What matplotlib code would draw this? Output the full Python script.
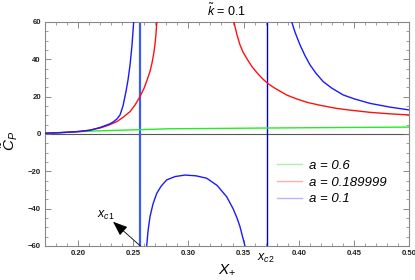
import matplotlib
matplotlib.use("Agg")
import matplotlib.pyplot as plt
from matplotlib.ticker import MultipleLocator, FixedLocator

plt.rcParams['font.family'] = ['Liberation Sans', 'DejaVu Sans']
plt.rcParams['mathtext.fontset'] = 'custom'
plt.rcParams['mathtext.rm'] = 'Liberation Sans'
plt.rcParams['mathtext.it'] = 'Liberation Sans:italic'
plt.rcParams['mathtext.bf'] = 'Liberation Sans:bold'

# ---- data ----
green_x = [0.17, 0.19, 0.21, 0.23, 0.2561, 0.2815, 0.3287, 0.37, 0.42, 0.46, 0.50]
green_y = [0.4, 1.0, 1.5, 1.9, 2.3, 2.8, 3.0, 3.2, 3.4, 3.55, 3.7]

red_left_x = [0.17, 0.1836, 0.1927, 0.2017, 0.2108, 0.2199, 0.2271, 0.2350, 0.2407, 0.2471,
              0.2516, 0.2561, 0.2598, 0.2625, 0.2652, 0.2670, 0.2684, 0.2697, 0.2706, 0.2714]
red_left_y = [0.4, 0.7, 1.0, 1.3, 2.1, 3.2, 4.6, 6.6, 8.9, 12.0,
              15.5, 20.0, 24.5, 28.8, 33.5, 38.0, 42.5, 48.0, 53.5, 60.0]
red_right_x = [0.3413, 0.3440, 0.3468, 0.3496, 0.3529, 0.3577, 0.3631, 0.3667, 0.3719, 0.3785,
               0.3891, 0.3976, 0.4073, 0.4193, 0.4345, 0.4465, 0.4647, 0.4828, 0.50]
red_right_y = [60.0, 53.2, 47.7, 43.8, 40.5, 36.0, 32.2, 29.9, 27.1, 24.5,
               20.9, 18.9, 17.0, 15.4, 13.7, 12.8, 11.6, 10.8, 10.2]

blue_left_x = [0.17, 0.1836, 0.1972, 0.2108, 0.2199, 0.2259, 0.2289, 0.2317, 0.2353, 0.2380,
               0.2407, 0.2434, 0.2453, 0.2471, 0.2489, 0.2504]
blue_left_y = [0.4, 0.7, 1.2, 2.0, 3.5, 4.8, 5.5, 6.4, 8.1, 10.2,
               15.0, 22.7, 29.1, 37.0, 47.7, 60.0]
blue_mid_x = [0.2622, 0.2634, 0.2652, 0.2679, 0.2713, 0.2752, 0.2803, 0.2879, 0.2969, 0.3069,
              0.3166, 0.3259, 0.3347, 0.3405, 0.3441, 0.3468, 0.3513]
blue_mid_y = [-60.0, -52.0, -44.3, -37.5, -31.8, -28.0, -24.6, -22.8, -22.0, -22.4,
              -23.7, -27.5, -33.6, -40.0, -45.0, -49.7, -60.0]
blue_right_x = [0.3937, 0.3967, 0.4012, 0.4057, 0.4103, 0.4157, 0.4223, 0.4302, 0.4404, 0.4510,
                0.4647, 0.4828, 0.50]
blue_right_y = [60.0, 54.5, 47.7, 42.0, 37.0, 32.5, 28.0, 24.5, 20.9, 18.7,
                16.4, 14.4, 12.9]

x_c1 = 0.2565
x_c2 = 0.371

legend_labels = ['a = 0.6', 'a = 0.189999', 'a = 0.1']
x_ticks = [0.20, 0.25, 0.30, 0.35, 0.40, 0.45, 0.50]
y_ticks = [-60, -40, -20, 0, 20, 40, 60]

# ---- figure ----
fig = plt.figure(figsize=(4.15, 2.8), dpi=100)
ax = fig.add_axes([45/415, 1-246/280, 364/415, 224/280])

lw = 1.0
kw = dict(lw=lw, zorder=3, solid_joinstyle='round', solid_capstyle='butt')
ax.axhline(0, color='#555555', lw=0.8, zorder=1)
ax.plot(green_x, green_y, color='#22ee22', **kw)
ax.plot(red_left_x, red_left_y, color='#ff1010', **kw)
ax.plot(red_right_x, red_right_y, color='#ff1010', **kw)
ax.plot(blue_left_x, blue_left_y, color='#1a1aff', **kw)
ax.plot(blue_mid_x, blue_mid_y, color='#1a1aff', **kw)
ax.plot(blue_right_x, blue_right_y, color='#1a1aff', **kw)
ax.axvline(x_c1, color='#3a5cff', lw=1.6, zorder=2)
ax.axvline(x_c2, color='#0000dd', lw=1.0, zorder=2)

ax.set_xlim(0.17, 0.50)
ax.set_ylim(-60, 60)

ax.xaxis.set_major_locator(FixedLocator(x_ticks))
ax.xaxis.set_minor_locator(MultipleLocator(0.01))
ax.yaxis.set_major_locator(FixedLocator(y_ticks))
ax.yaxis.set_minor_locator(MultipleLocator(5))
ax.set_xticklabels(['%.2f' % t for t in x_ticks], fontsize=5.6, fontweight='bold', color='#222222')
ax.set_yticklabels([str(t).replace('-', '\u2212') for t in y_ticks], fontsize=5.6, fontweight='bold', color='#222222')
ax.tick_params(which='both', direction='in', top=True, right=True, color='#777777', pad=3)
ax.tick_params(which='major', length=4, width=0.6)
ax.tick_params(which='minor', length=2, width=0.5)
for s in ax.spines.values():
    s.set_color('#888888')
    s.set_linewidth(0.8)

ax.set_title(r'$\tilde{k}$ = 0.1', fontsize=9, pad=4)
ax.set_xlabel(r'$X_{+}$', fontsize=11, labelpad=4)
ax.set_ylabel(r'$\tilde{C}_P$', fontsize=11)
ax.yaxis.set_label_coords(-0.068, 0.47)

# legend
lg_colors = ['#aaf0aa', '#f7b0b0', '#b8b8f8']
handles = [plt.Line2D([], [], color=c, lw=1.0) for c in lg_colors]
leg = ax.legend(handles, legend_labels, loc='upper left', bbox_to_anchor=(0.637, 0.385),
                frameon=False, prop={'style': 'italic', 'size': 9.5}, borderpad=0,
                handlelength=1.9, handletextpad=0.5, labelspacing=0.33, borderaxespad=0)

# annotations
ax.annotate('', xy=(0.2317, -47.0), xytext=(x_c1, -60),
            arrowprops=dict(arrowstyle='-|>,head_length=0.9,head_width=0.35', color='black', lw=0.6,
                            shrinkA=0, shrinkB=0), annotation_clip=False)
ax.text(0.2253, -43.4, r'$x_{c1}$', fontsize=9, ha='center', va='center')
ax.text(x_c2 - 0.0005, -66.5, r'$x_{c2}$', fontsize=9, ha='center', va='center')

fig.savefig('out.png', dpi=100)
